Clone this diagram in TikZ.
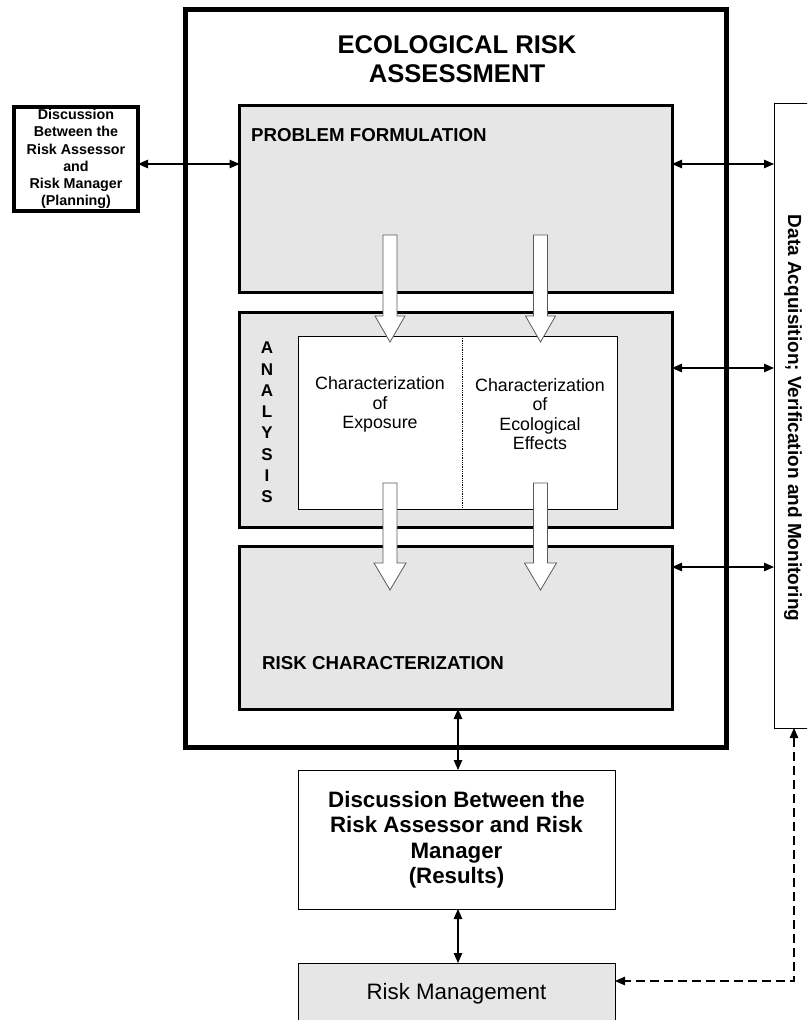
\documentclass[tikz,border=0pt]{standalone}
\usepackage{fontspec}
\setmainfont{Liberation Sans}
\usetikzlibrary{arrows.meta,calc}
\definecolor{panel}{RGB}{230,230,230}
\newcommand\dnarrow[5]{% x, top, head start, tip, head half width
  \draw[fatarrow] (#1-7,#2) -- (#1+7,#2) -- (#1+7,#3) -- (#1+#5,#3) -- (#1,#4)
    -- (#1-#5,#3) -- (#1-7,#3) -- cycle;}
\begin{document}
\begin{tikzpicture}[x=1pt,y=-1pt,
  box/.style={draw,anchor=north west,inner sep=0pt,outer sep=0pt},
  stage/.style={box,line width=3pt,fill=panel,minimum width=432.5pt},
  conn/.style={{Triangle[length=10pt,width=8.5pt]}-{Triangle[length=10pt,width=8.5pt]},line width=1.1pt},
  fatarrow/.style={draw=black!65,fill=white,line width=0.8pt},
  head/.style={font=\bfseries\fontsize{18.7}{21}\selectfont,inner sep=0pt}]
\clip (0,0) rectangle (807,1020);
\fill[white] (0,0) rectangle (807,1020);

% outer assessment frame
\node[box,line width=5pt,minimum width=540.5pt,minimum height=738pt] (era) at (185.5,9.5) {};
\node[font=\bfseries\fontsize{25.6}{29}\selectfont,align=center] (title) at (457,59)
  {ECOLOGICAL RISK\\ASSESSMENT};

% three stages
\node[stage,minimum height=187pt] (pf) at (239.5,105.5) {};
\node[stage,minimum height=215pt] (an) at (239.5,312) {};
\node[stage,minimum height=163pt] (rc) at (239.5,546) {};
\node[head,anchor=west] (pft) at (251,135) {PROBLEM FORMULATION};
\node[head,anchor=west] (rct) at (262,663) {RISK CHARACTERIZATION};
\node[font=\bfseries\fontsize{17}{21.3}\selectfont,align=center,inner sep=0pt] (ant) at (267,422.5)
  {A\\N\\A\\L\\Y\\S\\I\\S};

% analysis workspace
\node[box,fill=white,line width=0.8pt,minimum width=319pt,minimum height=173pt] (ws) at (298,336) {};
\coordinate (split) at (462,0);
\draw[densely dotted,line width=0.8pt] (split |- ws.north) -- (split |- ws.south);
\node[font=\fontsize{17.8}{19.5}\selectfont,align=center,inner sep=0pt] (expo) at (380,404.5)
  {Characterization\\of\\Exposure};
\node[font=\fontsize{17.8}{19.5}\selectfont,align=center,inner sep=0pt] (effe) at (540,414)
  {Characterization\\of\\Ecological\\Effects};

% flow between stages
\dnarrow{390}{235}{316}{342}{15}
\dnarrow{540.5}{235}{316}{342}{15}
\dnarrow{390}{483}{563}{590}{16}
\dnarrow{540.5}{483}{563}{590}{16}

% planning discussion
\node[box,line width=4pt,minimum width=124pt,minimum height=104pt] (plan) at (14,107) {};
\node[font=\bfseries\fontsize{14.3}{17.2}\selectfont,align=center,inner sep=0pt] (plant) at (plan.center)
  {Discussion\\Between the\\Risk Assessor\\and\\Risk Manager\\(Planning)};

% data acquisition side bar
\node[box,line width=0.9pt,minimum width=80pt,minimum height=625pt] (data) at (774,103) {};
\node[font=\bfseries\fontsize{19}{21}\selectfont,rotate=-90,inner sep=0pt] (datat) at (793,418)
  {Data Acquisition; Verification and Monitoring};

% results discussion and risk management
\node[box,line width=0.9pt,fill=white,minimum width=317pt,minimum height=139pt] (res) at (298,770) {};
\node[font=\bfseries\fontsize{22.3}{25.5}\selectfont,align=center,inner sep=0pt] (rest) at (res.center)
  {Discussion Between the\\Risk Assessor and Risk\\Manager\\(Results)};
\node[box,line width=0.9pt,fill=panel,minimum width=317pt,minimum height=62pt] (rm) at (298,963) {};
\node[font=\fontsize{22.3}{26}\selectfont,inner sep=0pt] (rmt) at (rm.center) {Risk Management};

% connectors
\coordinate (r1) at (0,164);
\coordinate (r2) at (0,368);
\coordinate (r3) at (0,567);
\draw[conn] (r1 -| plan.east) -- (r1 -| pf.west);
\draw[conn] (r1 -| pf.east) -- (r1 -| data.west);
\draw[conn] (r2 -| an.east) -- (r2 -| data.west);
\draw[conn] (r3 -| rc.east) -- (r3 -| data.west);
\coordinate (vx) at (458,0);
\draw[conn] (vx |- rc.south) -- (vx |- res.north);
\draw[conn] (vx |- res.south) -- (vx |- rm.north);
\coordinate (fb) at (794,981);
\draw[conn,dash pattern=on 9pt off 5pt] (fb |- data.south) -- (fb) -- (fb -| rm.east);
\end{tikzpicture}
\end{document}
